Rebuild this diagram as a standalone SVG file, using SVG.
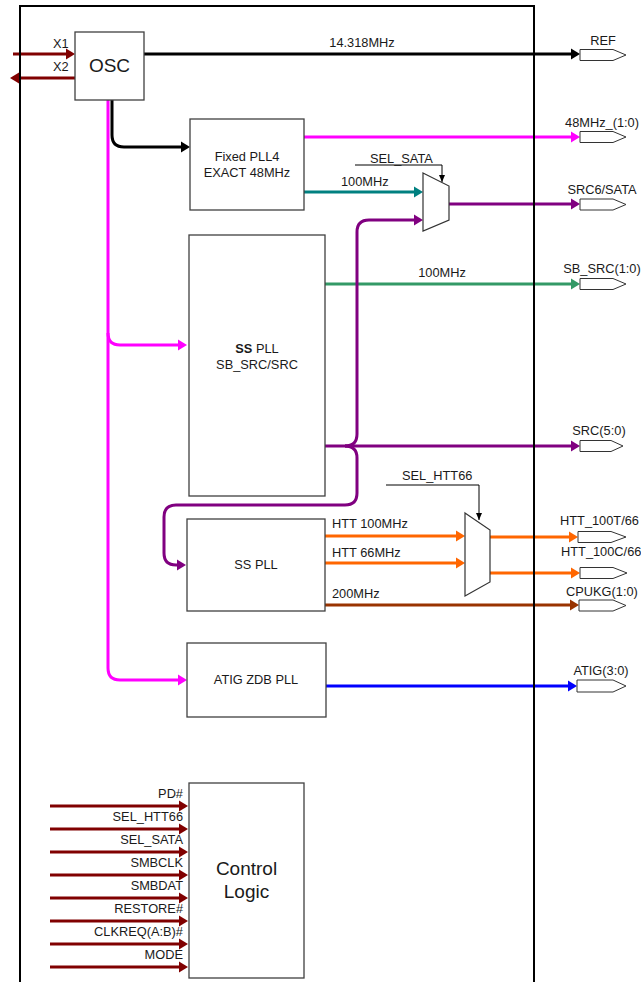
<svg xmlns="http://www.w3.org/2000/svg" width="641" height="982" viewBox="0 0 641 982">
<defs>
<style>
text{font-family:"Liberation Sans",Arial,sans-serif;font-size:12.8px;fill:#1a1a1a}
.big{font-size:19px}
.mid{text-anchor:middle}
.end{text-anchor:end}
.box{fill:#fff;stroke:#404040;stroke-width:1.3}
.port{fill:#fff;stroke:#333;stroke-width:1}
.mux{fill:#fff;stroke:#333;stroke-width:1.2}
.w{fill:none;stroke-width:3}
.thin{fill:none;stroke:#000;stroke-width:1}
</style>
<marker id="aK" markerUnits="userSpaceOnUse" markerWidth="10" markerHeight="12" refX="6" refY="6" orient="auto"><path d="M0,0.5 L9,6 L0,11.5z" fill="#000"/></marker>
<marker id="aR" markerUnits="userSpaceOnUse" markerWidth="10" markerHeight="12" refX="6" refY="6" orient="auto"><path d="M0,0.5 L9,6 L0,11.5z" fill="#800000"/></marker>
<marker id="aM" markerUnits="userSpaceOnUse" markerWidth="10" markerHeight="12" refX="6" refY="6" orient="auto"><path d="M0,0.5 L9,6 L0,11.5z" fill="#ff00ff"/></marker>
<marker id="aT" markerUnits="userSpaceOnUse" markerWidth="10" markerHeight="12" refX="6" refY="6" orient="auto"><path d="M0,0.5 L9,6 L0,11.5z" fill="#008080"/></marker>
<marker id="aP" markerUnits="userSpaceOnUse" markerWidth="10" markerHeight="12" refX="6" refY="6" orient="auto"><path d="M0,0.5 L9,6 L0,11.5z" fill="#800080"/></marker>
<marker id="aG" markerUnits="userSpaceOnUse" markerWidth="10" markerHeight="12" refX="6" refY="6" orient="auto"><path d="M0,0.5 L9,6 L0,11.5z" fill="#339966"/></marker>
<marker id="aO" markerUnits="userSpaceOnUse" markerWidth="10" markerHeight="12" refX="6" refY="6" orient="auto"><path d="M0,0.5 L9,6 L0,11.5z" fill="#ff6600"/></marker>
<marker id="aB" markerUnits="userSpaceOnUse" markerWidth="10" markerHeight="12" refX="6" refY="6" orient="auto"><path d="M0,0.5 L9,6 L0,11.5z" fill="#993300"/></marker>
<marker id="aBl" markerUnits="userSpaceOnUse" markerWidth="10" markerHeight="12" refX="6" refY="6" orient="auto"><path d="M0,0.5 L9,6 L0,11.5z" fill="#0000ff"/></marker>
<marker id="aS" markerUnits="userSpaceOnUse" markerWidth="8" markerHeight="8" refX="7" refY="3" orient="auto"><path d="M0,0 L7,3 L0,6z" fill="#000"/></marker>
</defs>
<rect width="641" height="982" fill="#fff"/>

<g id="connectors">
  <path class="w" stroke="#800000" d="M13,54 L72,54" marker-end="url(#aR)"/>
  <path class="w" stroke="#800000" d="M77,78 L13,78" marker-end="url(#aR)"/>
  <path class="w" stroke="#ff00ff" d="M108,100 L108,668 Q108,680 120,680 L184,680" marker-end="url(#aM)"/>
  <path class="w" stroke="#ff00ff" d="M108,333 Q108,345 120,345 L184,345" marker-end="url(#aM)"/>
  <path class="w" stroke="#000" d="M144,54 L577,54" marker-end="url(#aK)"/>
  <path class="w" stroke="#000" d="M112,100 L112,135 Q112,147 124,147 L187,147" marker-end="url(#aK)"/>
  <path class="w" stroke="#ff00ff" d="M304,137 L577,137" marker-end="url(#aM)"/>
  <path class="w" stroke="#008080" d="M304,192 L420,192" marker-end="url(#aT)"/>
  <path class="w" stroke="#800080" d="M449,204 L577,204" marker-end="url(#aP)"/>
  <path class="w" stroke="#339966" d="M325,284 L577,284" marker-end="url(#aG)"/>
  <path class="w" stroke="#800080" d="M325,446 L577,446" marker-end="url(#aP)"/>
  <path class="w" stroke="#800080" d="M345,446 Q357,446 357,434 L357,232 Q357,220 369,220 L420,220" marker-end="url(#aP)"/>
  <path class="w" stroke="#800080" d="M345,446 Q357,446 357,458 L357,493 Q357,505 345,505 L176,505 Q164,505 164,517 L164,553 Q164,565 176,565 L183,565" marker-end="url(#aP)"/>
  <path class="w" stroke="#ff6600" d="M325,536 L462,536" marker-end="url(#aO)"/>
  <path class="w" stroke="#ff6600" d="M325,563 L462,563" marker-end="url(#aO)"/>
  <path class="w" stroke="#ff6600" d="M489,537 L575,537" marker-end="url(#aO)"/>
  <path class="w" stroke="#ff6600" d="M490,573 L577,573" marker-end="url(#aO)"/>
  <path class="w" stroke="#993300" d="M325,605 L576,605" marker-end="url(#aB)"/>
  <path class="w" stroke="#0000ff" d="M326,686 L574,686" marker-end="url(#aBl)"/>
  <path class="thin" d="M355,165 L442,165 L442,182" marker-end="url(#aS)"/>
  <path class="thin" d="M386,485 L479,485 L479,520" marker-end="url(#aS)"/>
  <path class="w" stroke="#800000" d="M50,806 L185,806" marker-end="url(#aR)"/>
  <path class="w" stroke="#800000" d="M50,829 L185,829" marker-end="url(#aR)"/>
  <path class="w" stroke="#800000" d="M50,852 L185,852" marker-end="url(#aR)"/>
  <path class="w" stroke="#800000" d="M50,875 L185,875" marker-end="url(#aR)"/>
  <path class="w" stroke="#800000" d="M50,898 L185,898" marker-end="url(#aR)"/>
  <path class="w" stroke="#800000" d="M50,921 L185,921" marker-end="url(#aR)"/>
  <path class="w" stroke="#800000" d="M50,944 L185,944" marker-end="url(#aR)"/>
  <path class="w" stroke="#800000" d="M50,967 L185,967" marker-end="url(#aR)"/>
</g>

<g id="labels">
  <text x="53" y="48">X1</text>
  <text x="53" y="71">X2</text>
  <text x="362" y="47" class="mid">14.318MHz</text>
  <text x="341" y="186">100MHz</text>
  <text x="370" y="163">SEL_SATA</text>
  <text x="442" y="277" class="mid">100MHz</text>
  <text x="402" y="480">SEL_HTT66</text>
  <text x="332" y="528">HTT 100MHz</text>
  <text x="332" y="557">HTT 66MHz</text>
  <text x="332" y="598">200MHz</text>
  <text x="183" y="798" class="end">PD#</text>
  <text x="183" y="821" class="end">SEL_HTT66</text>
  <text x="183" y="844" class="end">SEL_SATA</text>
  <text x="183" y="867" class="end">SMBCLK</text>
  <text x="183" y="890" class="end">SMBDAT</text>
  <text x="183" y="913" class="end">RESTORE#</text>
  <text x="183" y="936" class="end">CLKREQ(A:B)#</text>
  <text x="183" y="959" class="end">MODE</text>
</g>

<g id="osc"><rect class="box" x="75" y="32" width="69" height="68"/><text x="109.5" y="72" class="mid big">OSC</text></g>
<g id="fixed-pll4"><rect class="box" x="190" y="119" width="114" height="91"/><text x="247" y="161" class="mid">Fixed PLL4</text><text x="247" y="177" class="mid">EXACT 48MHz</text></g>
<g id="ss-pll-src"><rect class="box" x="189" y="235" width="136" height="261"/><text x="257" y="353" class="mid"><tspan font-weight="bold">SS</tspan> PLL</text><text x="257" y="369" class="mid">SB_SRC/SRC</text></g>
<g id="ss-pll-htt"><rect class="box" x="187" y="519" width="138" height="92"/><text x="256" y="569" class="mid">SS PLL</text></g>
<g id="atig-pll"><rect class="box" x="187" y="643" width="139" height="74"/><text x="256" y="684" class="mid">ATIG ZDB PLL</text></g>
<g id="control-logic"><rect class="box" x="189" y="783" width="115" height="195"/><text x="246.5" y="875" class="mid big">Control</text><text x="246.5" y="898" class="mid big">Logic</text></g>
<g id="mux-sata"><polygon class="mux" points="423,173 449,186 449,220 423,231"/></g>
<g id="mux-htt"><polygon class="mux" points="465,513 490,530 490,582 465,596"/></g>

<g id="chip-border"><path d="M20,982 L20,6 L534,6 L534,982" fill="none" stroke="#000" stroke-width="2"/></g>

<g id="port-ref"><polygon class="port" points="580,49.5 613,49.5 626,55 613,60.5 580,60.5"/><text x="603" y="45" class="mid">REF</text></g>
<g id="port-48mhz"><polygon class="port" points="580,131.5 613,131.5 626,137 613,142.5 580,142.5"/><text x="602" y="127" class="mid">48MHz_(1:0)</text></g>
<g id="port-src6"><polygon class="port" points="580,199 613,199 626,204.5 613,210 580,210"/><text x="602" y="194" class="mid">SRC6/SATA</text></g>
<g id="port-sbsrc"><polygon class="port" points="580,278.5 613,278.5 626,284 613,289.5 580,289.5"/><text x="602" y="273" class="mid">SB_SRC(1:0)</text></g>
<g id="port-src"><polygon class="port" points="580,440.5 611,440.5 623,446 611,451.5 580,451.5"/><text x="599" y="435" class="mid">SRC(5:0)</text></g>
<g id="port-htt100t"><polygon class="port" points="578,531.5 611,531.5 626,537 611,542.5 578,542.5"/><text x="560" y="525">HTT_100T/66</text></g>
<g id="port-htt100c"><polygon class="port" points="580,567.5 613,567.5 627,573 613,578.5 580,578.5"/><text x="561" y="556">HTT_100C/66</text></g>
<g id="port-cpukg"><polygon class="port" points="579,600 613,600 626,605.5 613,611 579,611"/><text x="566" y="596">CPUKG(1:0)</text></g>
<g id="port-atig"><polygon class="port" points="577,680 613,680 626,686 613,692 577,692"/><text x="601" y="675" class="mid">ATIG(3:0)</text></g>
</svg>
